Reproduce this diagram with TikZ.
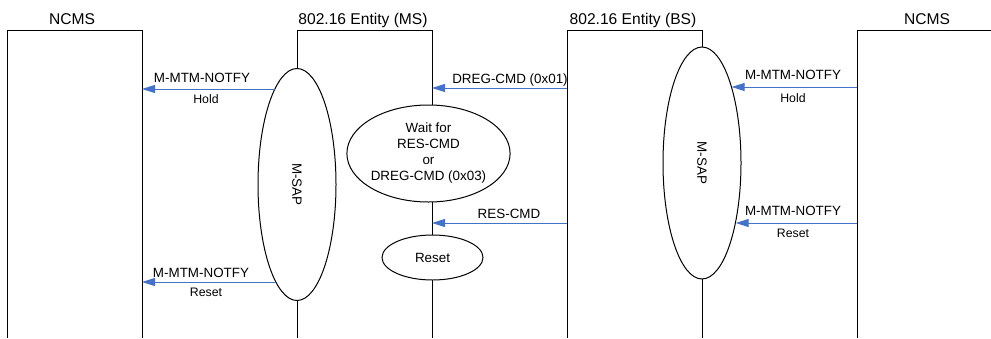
\documentclass[tikz,border=0pt]{standalone}
\usepackage{fontspec}
\setmainfont{Liberation Sans}
\usetikzlibrary{arrows.meta,shapes.geometric}
\definecolor{msgblue}{HTML}{4472C4}

\begin{document}
\begin{tikzpicture}[x=1pt,y=-1pt]
\tikzstyle{lifeline} = [draw, line width=1pt];
\tikzstyle{heading} = [font=\fontsize{15.6}{18}\selectfont, inner sep=0pt, anchor=base];
\tikzstyle{msgtext} = [font=\fontsize{13.4}{16}\selectfont, inner sep=0pt, anchor=base];
\tikzstyle{argtext} = [font=\fontsize{12.3}{14}\selectfont, inner sep=0pt, anchor=base];
\tikzstyle{sap} = [ellipse, draw, fill=white, line width=1pt, inner sep=0pt,
minimum width=78pt, minimum height=232pt];
\tikzstyle{state} = [ellipse, draw, fill=white, line width=1pt, inner sep=0pt,
align=center, font=\fontsize{13.4}{16}\selectfont];
\tikzstyle{msg} = [draw=msgblue, line width=1pt, -{Triangle[length=13pt,width=8pt]}];

\useasboundingbox (0,0) rectangle (991,338);
\clip (0,0) rectangle (991,338);

% entities
\draw[lifeline] (7,338) |- (142,30) -- (142,338);
\draw[lifeline] (297,338) |- (432,30) -- (432,338);
\draw[lifeline] (567,338) |- (702,30) -- (702,338);
\draw[lifeline] (857,338) |- (992,30) -- (992,338);

\node[heading] (ncmsL) at (72,24) {NCMS};
\node[heading] (ms) at (363,24) {802.16 Entity (MS)};
\node[heading] (bs) at (633,24) {802.16 Entity (BS)};
\node[heading] (ncmsR) at (927,24) {NCMS};

% points on the lifelines
\coordinate (ncmsL-hold) at (142,89);
\coordinate (ncmsL-reset) at (142,282);
\coordinate (ms-dreg) at (432,88);
\coordinate (ms-res) at (432,223);
\coordinate (bs-dreg) at (567,88);
\coordinate (bs-res) at (567,223);
\coordinate (ncmsR-hold) at (857,87);
\coordinate (ncmsR-reset) at (857,223);

% SAPs and states
\node[sap] (msapL) at (297,184.5) {};
\node[rotate=-90, font=\fontsize{13.4}{16}\selectfont] at (msapL) {M-SAP};
\node[sap] (msapR) at (702,163) {};
\node[rotate=-90, font=\fontsize{13.4}{16}\selectfont] at (msapR) {M-SAP};

\node[state, minimum width=163pt, minimum height=97pt] (wait) at (428.5,153.5)
{Wait for\\RES-CMD\\or\\DREG-CMD (0x03)};
\node[state, minimum width=101pt, minimum height=45pt] (reset) at (432.5,257.5) {Reset};

% messages
\draw[msg] (msapL.103 |- ncmsL-hold) -- (ncmsL-hold);
\node[msgtext] (holdL-msg) at (202,82) {M-MTM-NOTFY};
\node[argtext] (holdL-arg) at (206,103) {Hold};

\draw[msg] (msapL.-102 |- ncmsL-reset) -- (ncmsL-reset);
\node[msgtext] (resetL-msg) at (201,277) {M-MTM-NOTFY};
\node[argtext] (resetL-arg) at (206,296) {Reset};

\draw[msg] (bs-dreg) -- (ms-dreg);
\node[msgtext] (dreg-msg) at (510,83) {DREG-CMD (0x01)};

\draw[msg] (bs-res) -- (ms-res);
\node[msgtext] (res-msg) at (509,218) {RES-CMD};

\draw[msg] (ncmsR-hold) -- (msapR.69 |- ncmsR-hold);
\node[msgtext] (holdR-msg) at (793,79) {M-MTM-NOTFY};
\node[argtext] (holdR-arg) at (793,102) {Hold};

\draw[msg] (ncmsR-reset) -- (msapR.-61 |- ncmsR-reset);
\node[msgtext] (resetR-msg) at (793,215) {M-MTM-NOTFY};
\node[argtext] (resetR-arg) at (793,237) {Reset};

\end{tikzpicture}
\end{document}
